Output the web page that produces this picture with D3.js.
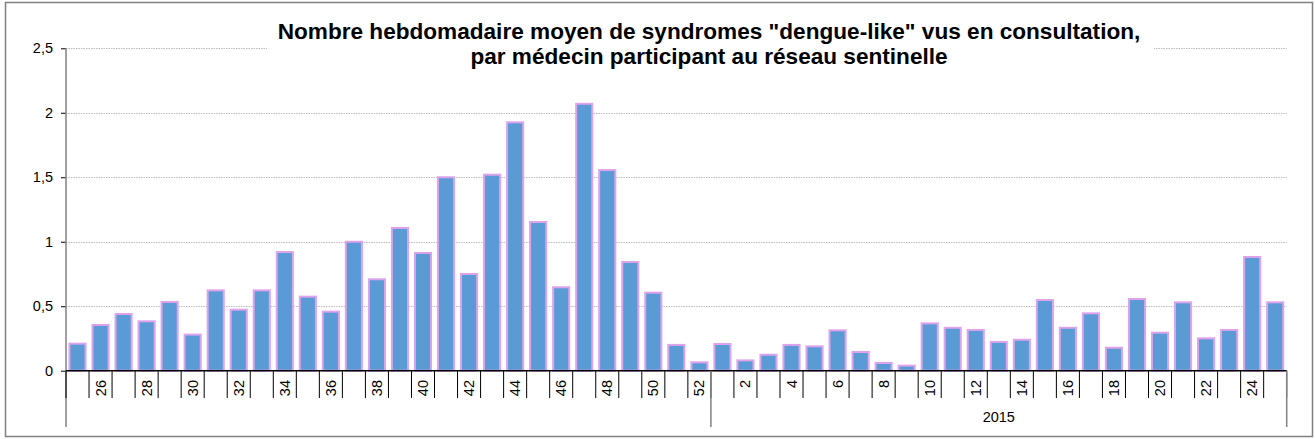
<!DOCTYPE html>
<html><head><meta charset="utf-8">
<script src="https://cdn.jsdelivr.net/npm/d3@7"></script>
<style>body{margin:0;background:#fff}svg{display:block;font-family:"Liberation Sans",Arial,sans-serif}</style>
</head><body><svg id="c" width="1315" height="439"></svg>
<script>
const weeks = [25,26,27,28,29,30,31,32,33,34,35,36,37,38,39,40,41,42,43,44,45,46,47,48,49,50,51,52,
  1,2,3,4,5,6,7,8,9,10,11,12,13,14,15,16,17,18,19,20,21,22,23,24,25];
const years = ["2014","2014","2014","2014","2014","2014","2014","2014","2014","2014","2014","2014","2014","2014",
  "2014","2014","2014","2014","2014","2014","2014","2014","2014","2014","2014","2014","2014","2014",
  "2015","2015","2015","2015","2015","2015","2015","2015","2015","2015","2015","2015","2015","2015","2015",
  "2015","2015","2015","2015","2015","2015","2015","2015","2015","2015"];
const values = [0.21,0.355,0.44,0.383,0.533,0.28,0.623,0.473,0.623,0.92,0.574,0.458,1.0,0.709,1.107,0.913,
  1.5,0.75,1.52,1.926,1.153,0.647,2.07,1.556,0.843,0.605,0.2,0.065,
  0.207,0.08,0.124,0.2,0.189,0.313,0.145,0.06,0.039,0.367,0.333,0.316,0.223,0.24,0.548,0.333,0.445,0.178,
  0.556,0.295,0.53,0.251,0.316,0.882,0.53];
const yTicks = [0,0.5,1,1.5,2,2.5];
const yearLabels = [{year:"2014",label:""},{year:"2015",label:"2015"}];
const titleLines = ['Nombre hebdomadaire moyen de syndromes "dengue-like" vus en consultation,',
  'par médecin participant au réseau sentinelle'];

const svg = d3.select("#c");
const L = 66, R = 1286.7, T = 48.3, B = 370.7;
const idx = d3.range(values.length);
const x = d3.scaleBand().domain(idx).range([L, R]).paddingInner(0.3).paddingOuter(0.15);
const y = d3.scaleLinear().domain([0, 2.5]).range([B, T]);
const fmt = v => String(v).replace(".", ",");
const LBL = 14.5;

// outer border
svg.append("rect").attr("x",5.5).attr("y",2.5).attr("width",1307).attr("height",434)
  .attr("fill","#fff").attr("stroke","#808080").attr("stroke-width",1.5);

// gridlines
svg.append("g").selectAll("line").data(yTicks.filter(d=>d>0)).join("line")
  .attr("x1",L).attr("x2",R).attr("y1",d=>Math.round(y(d))+0.5).attr("y2",d=>Math.round(y(d))+0.5)
  .attr("stroke","#bdbdbd").attr("stroke-width",1).attr("stroke-dasharray","1.5,1");

// title background
svg.append("rect").attr("x",267).attr("y",12).attr("width",887).attr("height",58).attr("fill","#fff");
const title = svg.append("text").attr("text-anchor","middle").attr("font-weight","bold")
  .attr("font-size",22.6).attr("fill","#000");
titleLines.forEach((t,i)=>title.append("tspan").attr("x",709).attr("y",39+i*24.5).text(t));

// y axis labels
const yAxis = d3.axisLeft(y).tickValues(yTicks).tickFormat(fmt).tickSize(5);
const gy = svg.append("g").attr("transform",`translate(${L},0)`).call(yAxis);
gy.select(".domain").remove();
gy.selectAll(".tick line").attr("stroke","#000");
gy.selectAll(".tick text").attr("font-size",LBL).attr("font-family","Liberation Sans, Arial, sans-serif")
  .attr("fill","#000").attr("x",-13);

// bars
svg.append("g").selectAll("rect").data(idx).join("rect")
  .attr("x",i=>x(i)).attr("width",x.bandwidth())
  .attr("y",i=>y(values[i])).attr("height",i=>B-y(values[i]))
  .attr("fill","#5B9BD5").attr("stroke","#DDA3EC").attr("stroke-width",2);

// y axis line
svg.append("line").attr("x1",L).attr("x2",L).attr("y1",T).attr("y2",427)
  .attr("stroke","#808080").attr("stroke-width",1.5);
// x axis line
svg.append("line").attr("x1",L).attr("x2",R).attr("y1",B).attr("y2",B)
  .attr("stroke","#000").attr("stroke-width",1.5);

// category separators
const bounds = d3.range(values.length+1).map(k => L + k*(R-L)/values.length);
svg.append("g").selectAll("line").data(bounds).join("line")
  .attr("x1",d=>d).attr("x2",d=>d).attr("y1",B).attr("y2",398)
  .attr("stroke","#000").attr("stroke-width",1);
// year separators
const firstOf2015 = years.indexOf("2015");
[firstOf2015, values.length].forEach(k=>{
  svg.append("line").attr("x1",bounds[k]).attr("x2",bounds[k]).attr("y1",B).attr("y2",427)
    .attr("stroke","#808080").attr("stroke-width",1.5);
});

// week labels
svg.append("g").selectAll("text").data(idx.filter(i=>weeks[i]%2===0)).join("text")
  .attr("transform",i=>`translate(${x(i)+x.bandwidth()/2+5},380) rotate(-90)`)
  .attr("text-anchor","end").attr("font-size",LBL).attr("fill","#000")
  .text(i=>weeks[i]);

// year labels
yearLabels.forEach(yl=>{
  const a = years.indexOf(yl.year), b = years.lastIndexOf(yl.year)+1;
  svg.append("text").attr("x",(bounds[a]+bounds[b])/2).attr("y",422)
    .attr("text-anchor","middle").attr("font-size",LBL).attr("fill","#000").text(yl.label);
});
</script></body></html>
